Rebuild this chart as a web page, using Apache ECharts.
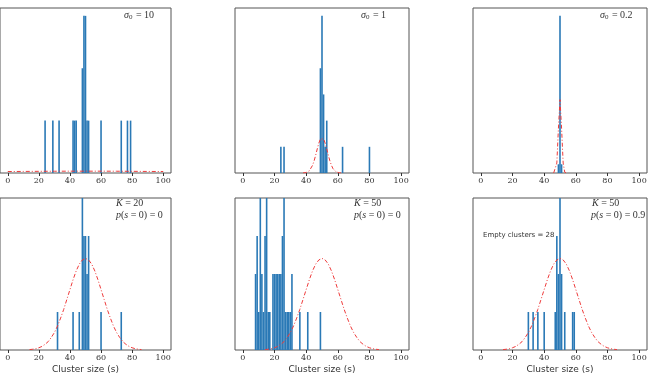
<!DOCTYPE html>
<html><head><meta charset="utf-8">
<script src="https://cdn.jsdelivr.net/npm/echarts@6/dist/echarts.min.js"></script>
<style>html,body{margin:0;padding:0;background:#fff}#c{width:651px;height:375px}</style>
</head><body><div id="c"></div>
<script>
// ---- data ----
const xTicks = [0, 20, 40, 60, 80, 100];
// histogram counts: [cluster size, number of clusters]
const hist1 = [[24,1],[29,1],[33,1],[42,1],[43,1],[44,1],[48,2],[49,3],[50,3],[51,1],[52,1],[60,1],[73,1],[77,1],[79,1]];
const hist2 = [[24,1],[26,1],[49,4],[50,6],[51,3],[52,1],[53,2],[63,1],[80,1]];
const hist3 = [[49,1],[50,18],[51,1]];
const hist4 = [[32,1],[42,1],[46,1],[48,4],[49,3],[50,3],[51,2],[52,3],[60,1],[73,1]];
const hist5 = [[8,2],[9,3],[10,1],[11,4],[12,2],[13,1],[14,3],[15,4],[16,1],[17,1],[19,2],[20,2],[21,2],[22,2],[23,2],[24,2],[25,3],[26,4],[27,1],[28,1],[29,1],[30,1],[31,2],[36,1],[41,1],[49,1]];
const hist6 = [[30,1],[33,1],[36,1],[40,1],[47,1],[48,3],[49,2],[50,4],[51,2],[53,1],[58,1],[59,1]];
// red dash-dot reference curves
const curve1 = [[0,0.028],[10,0.030],[20,0.032],[30,0.034],[40,0.035],[50,0.035],[60,0.035],[70,0.034],[80,0.032],[90,0.030],[100,0.028]];
const curve2 = [[38,0.003],[39,0.007],[40,0.018],[41,0.041],[42,0.085],[43,0.16],[44,0.29],[45,0.46],[46,0.68],[47,0.92],[48,1.14],[49,1.30],[50,1.36],[51,1.30],[52,1.14],[53,0.92],[54,0.68],[55,0.46],[56,0.29],[57,0.16],[58,0.085],[59,0.041],[60,0.018],[61,0.007],[62,0.003]];
const curve3 = [[46,0.003],[47,0.09],[48,1.14],[49,5.1],[50,8.4],[51,5.1],[52,1.14],[53,0.09],[54,0.003]];
const curveK = [[14,0.011],[16,0.020],[18,0.035],[20,0.059],[22,0.094],[24,0.15],[26,0.22],[28,0.33],[30,0.46],[32,0.63],[34,0.84],[36,1.07],[38,1.33],[40,1.59],[42,1.85],[44,2.08],[46,2.26],[48,2.37],[50,2.41],[52,2.37],[54,2.26],[56,2.08],[58,1.85],[60,1.59],[62,1.33],[64,1.07],[66,0.84],[68,0.63],[70,0.46],[72,0.33],[74,0.22],[76,0.15],[78,0.094],[80,0.059],[82,0.035],[84,0.020],[86,0.011]];
const yMaxes = [3.15, 6.3, 18.9, 4, 4, 4];
const xLabel = 'Cluster size (s)';
// ---------------------------------------

const hists = [hist1, hist2, hist3, hist4, hist5, hist6];
const curves = [curve1, curve2, curve3, curveK, curveK, curveK];
const colLeft = [-3, 235, 473];
const PW = 174;
const rows = [{top: 8, h: 165}, {top: 198, h: 155}];

const grids = [], xAxes = [], yAxes = [], series = [];
for (let i = 0; i < 6; i++) {
  const r = rows[Math.floor(i / 3)], c = colLeft[i % 3];
  grids.push({left: c, top: r.top, width: PW, height: r.h, show: true, borderColor: '#555', borderWidth: 1, backgroundColor: 'transparent', containLabel: false});
  xAxes.push({
    gridIndex: i, type: 'value', min: -5, max: 105,
    axisLine: {show: false}, splitLine: {show: false},
    axisTick: {show: true, customValues: xTicks, length: 3, lineStyle: {color: '#333', width: 1}},
    axisLabel: {customValues: xTicks, fontFamily: 'DejaVu Serif', fontSize: 8, color: '#333', margin: 4},
    name: i >= 3 ? xLabel : '', nameLocation: 'middle', nameGap: 15,
    nameTextStyle: {fontFamily: 'DejaVu Sans', fontSize: 9, color: '#333'}
  });
  yAxes.push({gridIndex: i, type: 'value', min: 0, max: yMaxes[i], show: false, splitLine: {show: false}});
  series.push({type: 'bar', xAxisIndex: i, yAxisIndex: i, data: hists[i], barWidth: 1.6, itemStyle: {color: '#2a79b6'}, silent: true, animation: false});
  series.push({type: 'line', xAxisIndex: i, yAxisIndex: i, data: curves[i], showSymbol: false, smooth: false,
    lineStyle: {color: '#ee3b3b', width: 1, type: [4, 2, 1, 2]}, silent: true, animation: false, z: 3});
}

const serif = 'Liberation Serif';
function lab(x, y, text) {
  const base = {fontFamily: serif, fontSize: 10, fill: '#333', lineHeight: 12};
  return {type: 'text', left: x, top: y, silent: true, style: {text: text, font: '10px "' + serif + '"', fill: '#333',
    rich: {
      i: Object.assign({}, base, {fontStyle: 'italic'}),
      n: base,
      s: {fontFamily: serif, fontSize: 7, fill: '#333', lineHeight: 12, verticalAlign: 'bottom', padding: [0, 1, 0, 0]}
    }}};
}
const graphics = [
  lab(124, 10, '{i|σ}{s|0}{n| = 10}'),
  lab(361, 10, '{i|σ}{s|0}{n| = 1}'),
  lab(600, 10, '{i|σ}{s|0}{n| = 0.2}'),
  lab(116, 198, '{i|K}{n| = 20}'),
  lab(116, 210, '{i|p}{n|(}{i|s}{n| = 0) = 0}'),
  lab(354, 198, '{i|K}{n| = 50}'),
  lab(354, 210, '{i|p}{n|(}{i|s}{n| = 0) = 0}'),
  lab(592, 198, '{i|K}{n| = 50}'),
  lab(591, 210, '{i|p}{n|(}{i|s}{n| = 0) = 0.9}'),
  {type: 'text', left: 483, top: 232, silent: true, style: {text: 'Empty clusters = 28', font: '7px "DejaVu Sans"', fill: '#333'}}
];

const chart = echarts.init(document.getElementById('c'), null, {renderer: 'canvas'});
chart.setOption({animation: false, grid: grids, xAxis: xAxes, yAxis: yAxes, series: series, graphic: graphics});
</script></body></html>
